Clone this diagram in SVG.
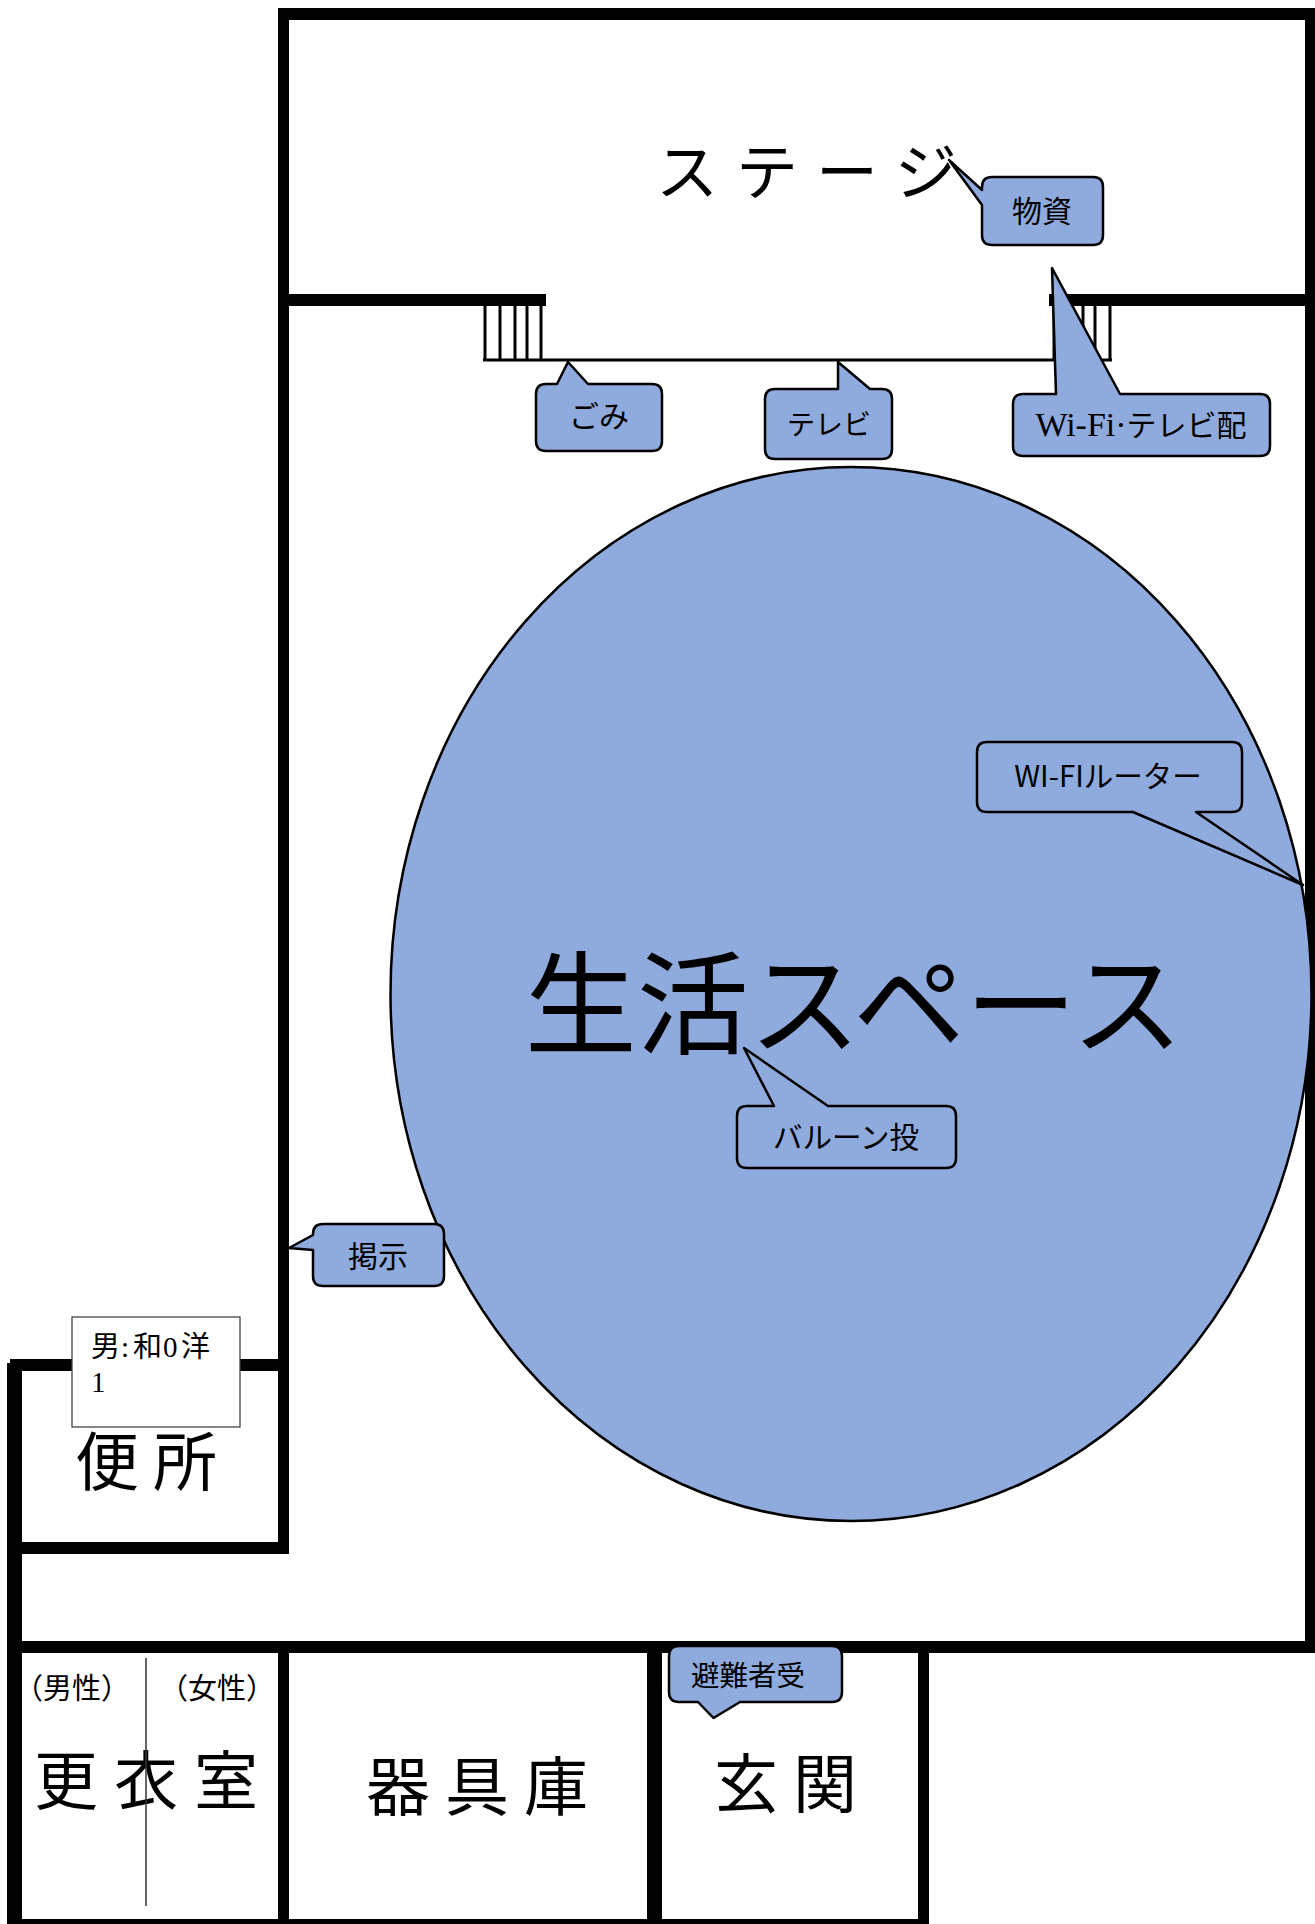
<svg xmlns="http://www.w3.org/2000/svg" width="1315" height="1924" viewBox="0 0 1315 1924">
<style>
.wall{fill:#000}
.stair{fill:none;stroke:#000;stroke-width:3}
.call{fill:#8faadc;stroke:#000;stroke-width:2.5;stroke-linejoin:round}
text{font-family:"Noto Sans CJK JP","Noto Sans CJK SC",sans-serif;fill:#000}
.s{font-family:"Liberation Serif","Noto Sans CJK JP",serif}
.m{text-anchor:middle}
</style>
<rect width="1315" height="1924" fill="#fff"/>
<g id="walls">
<rect class="wall" x="278" y="8" width="1037" height="12"/>
<rect class="wall" x="278" y="8" width="11" height="1546"/>
<rect class="wall" x="1305" y="8" width="10" height="1645"/>
<rect class="wall" x="278" y="294" width="268" height="12"/>
<rect class="wall" x="1049" y="294" width="266" height="12"/>
<rect class="wall" x="10" y="1359" width="279" height="12"/>
<rect class="wall" x="7" y="1363" width="15" height="561"/>
<rect class="wall" x="7" y="1542" width="282" height="12"/>
<rect class="wall" x="7" y="1641" width="1306" height="12"/>
<rect class="wall" x="278" y="1641" width="11" height="283"/>
<rect class="wall" x="647" y="1641" width="15" height="283"/>
<rect class="wall" x="918" y="1641" width="11" height="283"/>
<rect class="wall" x="7" y="1919" width="922" height="5"/>
</g>
<g id="stairs">
<path class="stair" d="M485 306V360M500 306V360M515 306V360M527 306V360M541 306V360M1054 306V360M1083 306V360M1095 306V360M1110 306V360M483 360H1112"/>
</g>
<g id="living">
<ellipse cx="851" cy="994" rx="460.500" ry="527" fill="#8faadc" stroke="#000" stroke-width="2.500"/>
<text class="m" x="854" y="1046" font-size="112">生活スペース</text>
</g>
<g id="stage"><text x="656" y="195" font-size="62" letter-spacing="18">ステージ</text></g>
<g id="toilet"><text x="75" y="1485" font-size="64" letter-spacing="14">便所</text></g>
<g id="changing">
<text x="34" y="1804" font-size="64" letter-spacing="16">更衣室</text>
<text class="s" x="14" y="1699" font-size="29">（男性）</text>
<text class="s" x="159" y="1699" font-size="29">（女性）</text>
<path d="M146 1658V1906" stroke="#333" stroke-width="1.500"/>
</g>
<g id="storage"><text x="366" y="1810" font-size="64" letter-spacing="15">器具庫</text></g>
<g id="entrance"><text x="714" y="1807" font-size="64" letter-spacing="15">玄関</text></g>
<g id="note">
<rect x="72" y="1317" width="168" height="110" fill="#fff" stroke="#444" stroke-width="1.300"/>
<text class="s" x="91 121 133 163 181" y="1357" font-size="29">男:和0洋</text>
<text class="s" x="91" y="1392" font-size="29">1</text>
</g>
<g id="callout-goods">
<path class="call" d="M992 177H1093Q1103 177 1103 187V235Q1103 245 1093 245H992Q982 245 982 235V205L949 160L982 190V187Q982 177 992 177Z"/>
<text class="m" x="1042" y="222" font-size="30">物資</text>
</g>
<g id="callout-trash">
<path class="call" d="M546 384H557L568 362L588 384H652Q662 384 662 394V441Q662 451 652 451H546Q536 451 536 441V394Q536 384 546 384Z"/>
<text class="m" x="599" y="427" font-size="30">ごみ</text>
</g>
<g id="callout-tv">
<path class="call" d="M775 389H838V362L870 389H882Q892 389 892 399V449Q892 459 882 459H775Q765 459 765 449V399Q765 389 775 389Z"/>
<text class="m" x="829" y="435" font-size="28">テレビ</text>
</g>
<g id="callout-wifi">
<path class="call" d="M1023 394H1056L1052 268L1120 394H1260Q1270 394 1270 404V446Q1270 456 1260 456H1023Q1013 456 1013 446V404Q1013 394 1023 394Z"/>
<text class="s m" x="1141" y="436" font-size="34">Wi-Fi·<tspan font-size="30" font-family="Noto Sans CJK JP">テレビ配</tspan></text>
</g>
<g id="callout-router">
<path class="call" d="M987 742H1232Q1242 742 1242 752V802Q1242 812 1232 812H1196L1303 885L1133 812H987Q977 812 977 802V752Q977 742 987 742Z"/>
<text class="m" x="1108" y="787" font-size="29.500" font-family="Liberation Sans">WI-FIルーター</text>
</g>
<g id="callout-balloon">
<path class="call" d="M747 1106H774L744 1048L828 1106H946Q956 1106 956 1116V1158Q956 1168 946 1168H747Q737 1168 737 1158V1116Q737 1106 747 1106Z"/>
<text class="m" x="846" y="1148" font-size="29.500">バルーン投</text>
</g>
<g id="callout-notice">
<path class="call" d="M323 1224H434Q444 1224 444 1234V1276Q444 1286 434 1286H323Q313 1286 313 1276V1250L289 1248L313 1235V1234Q313 1224 323 1224Z"/>
<text class="m" x="378" y="1267" font-size="30">掲示</text>
</g>
<g id="callout-reception">
<path class="call" d="M679 1646H832Q842 1646 842 1656V1692Q842 1702 832 1702H740L713.500 1718L698 1702H679Q669 1702 669 1692V1656Q669 1646 679 1646Z"/>
<text class="m" x="748" y="1686" font-size="28.500">避難者受</text>
</g>
</svg>
